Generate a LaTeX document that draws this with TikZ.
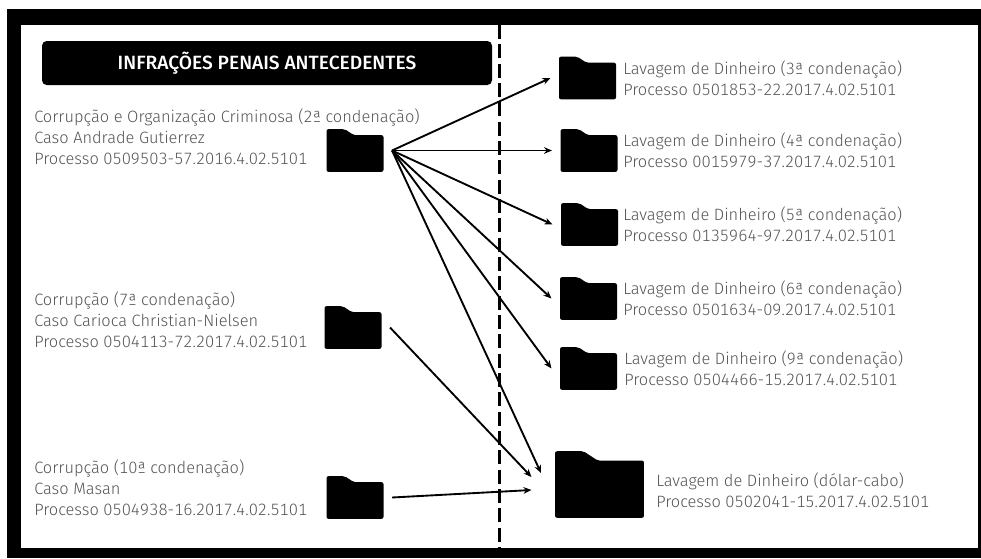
\documentclass[tikz,border=0pt]{standalone}
\usepackage{fontspec}
\setmainfont{Fira Sans Light}[BoldFont={Fira Sans Medium},Numbers={Monospaced,Lining}]
\usetikzlibrary{arrows.meta,calc}

\definecolor{textgray}{gray}{0.33}

\begin{document}
\begin{tikzpicture}[
		x=0.75pt,
		y=-0.75pt,
		folderbox/.style={
			minimum width=#1*42.75pt,
			minimum height=#1*32pt,
			inner sep=0pt,
			outer sep=6.4pt,
			path picture={
				\fill[black,rounded corners=1.5pt]
					(path picture bounding box.south west) --
					(path picture bounding box.north west) --
					($(path picture bounding box.north west)!0.32!(path picture bounding box.north east)$) --
					($(path picture bounding box.north west)!0.48!(path picture bounding box.north east)+(0,-#1*4.5pt)$) --
					($(path picture bounding box.north east)+(0,-#1*4.5pt)$) --
					(path picture bounding box.south east) -- cycle;
			}
		},
		folderbox/.default=1,
		label text/.style={
			anchor=west,
			align=left,
			inner sep=0pt,
			text=textgray,
			font=\fontsize{12.3}{15.75}\selectfont
		},
		title box/.style={
			fill=black,
			rounded corners=3.5pt,
			text=white,
			minimum width=337.5pt,
			minimum height=33pt,
			font=\fontsize{14.4}{16}\selectfont\bfseries
		},
		link/.style={
			line width=1.4pt,
			-{Stealth[length=6pt,width=5pt]}
		}]

	\useasboundingbox (0,0) rectangle (981,558);

	%frame
	\fill[black] (7,9) rectangle (981,558);
	\fill[white] (21,25) rectangle (978,548);

	%divider
	\coordinate (divider top) at (499.5,25);
	\coordinate (divider bottom) at (499.5,548);
	\draw[line width=2.4pt,dash pattern=on 10.5pt off 4pt] (divider top) -- (divider bottom);

	\node[title box] at (267,63) (title) {INFRAÇÕES PENAIS ANTECEDENTES};

	%left side
	\node[label text] at (34,137) (t1) {Corrupção e Organização Criminosa (2ª condenação)\\Caso Andrade Gutierrez\\Processo 0509503-57.2016.4.02.5101};
	\node[label text] at (34,320) (t2) {Corrupção (7ª condenação)\\Caso Carioca Christian-Nielsen\\Processo 0504113-72.2017.4.02.5101};
	\node[label text] at (34,488) (t3) {Corrupção (10ª condenação)\\Caso Masan\\Processo 0504938-16.2017.4.02.5101};

	\node[folderbox] at (355,150.5) (f1) {};
	\node[folderbox] at (353,327.5) (f2) {};
	\node[folderbox] at (355,497.5) (f3) {};

	%right side
	\node[folderbox] at (587.5,78) (r3) {};
	\node[folderbox] at (589,150.5) (r4) {};
	\node[folderbox] at (589.5,224.5) (r5) {};
	\node[folderbox] at (588.5,298.5) (r6) {};
	\node[folderbox] at (588.5,368.5) (r9) {};
	\node[folderbox=1.56] at (599.5,484.5) (cabo) {};

	\node[label text] at (623,78) (l3) {Lavagem de Dinheiro (3ª condenação)\\Processo 0501853-22.2017.4.02.5101};
	\node[label text] at (623,150) (l4) {Lavagem de Dinheiro (4ª condenação)\\Processo 0015979-37.2017.4.02.5101};
	\node[label text] at (623,224) (l5) {Lavagem de Dinheiro (5ª condenação)\\Processo 0135964-97.2017.4.02.5101};
	\node[label text] at (623,298) (l6) {Lavagem de Dinheiro (6ª condenação)\\Processo 0501634-09.2017.4.02.5101};
	\node[label text] at (624,368) (l9) {Lavagem de Dinheiro (9ª condenação)\\Processo 0504466-15.2017.4.02.5101};
	\node[label text] at (656,490) (lc) {Lavagem de Dinheiro (dólar-cabo)\\Processo 0502041-15.2017.4.02.5101};

	%arrows
	\coordinate (cabo a) at (541,473);
	\coordinate (cabo b) at (531.5,477);
	\coordinate (cabo c) at (531.5,490);

	\draw[link] (f1.east) -- (r3.west);
	\draw[link] (f1.east) -- (r4.west);
	\draw[link] (f1.east) -- (r5.west);
	\draw[link] (f1.east) -- (r6.west);
	\draw[link] (f1.east) -- (r9.west);
	\draw[link] (f1.east) -- (cabo a);
	\draw[link] (f2.east) -- (cabo b);
	\draw[link] (f3.east) -- (cabo c);

\end{tikzpicture}
\end{document}
